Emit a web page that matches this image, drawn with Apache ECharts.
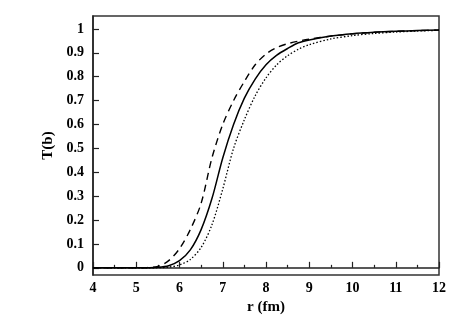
<!DOCTYPE html>
<html>
<head>
<meta charset="utf-8">
<script src="https://cdn.jsdelivr.net/npm/echarts@6/dist/echarts.min.js"></script>
<style>html,body{margin:0;padding:0;background:#fff}#c{width:463px;height:325px}</style>
</head>
<body>
<div id="c"></div>
<script>
var rValues = [4.0, 5.0, 5.25, 5.5, 5.75, 6.0, 6.25, 6.5, 6.75, 7.0, 7.25, 7.5, 7.75, 8.0, 8.25, 8.5, 8.75, 9.0, 9.5, 10.0, 10.5, 11.0, 11.5, 12.0];
var solidT  = [0, 0, 0.0005, 0.002, 0.009, 0.03, 0.075, 0.16, 0.29, 0.46, 0.60, 0.71, 0.79, 0.85, 0.89, 0.918, 0.942, 0.954, 0.970, 0.980, 0.986, 0.990, 0.993, 0.995];
var dashedT = [0, 0, 0.001, 0.006, 0.03, 0.08, 0.16, 0.27, 0.46, 0.60, 0.70, 0.78, 0.85, 0.895, 0.922, 0.938, 0.949, 0.957, 0.970, 0.979, 0.986, 0.990, 0.993, 0.995];
var dottedT = [0, 0, 0, 0.0005, 0.003, 0.012, 0.035, 0.085, 0.18, 0.33, 0.50, 0.62, 0.72, 0.795, 0.85, 0.888, 0.915, 0.934, 0.958, 0.972, 0.981, 0.987, 0.991, 0.994];
var yTicks = [0, 0.1, 0.2, 0.3, 0.4, 0.5, 0.6, 0.7, 0.8, 0.9, 1];
var xName = 'r (fm)';
var yName = 'T(b)';

function pairs(ys) { return rValues.map(function (r, i) { return [r, ys[i]]; }); }
var font = 'Liberation Serif';
var chart = echarts.init(document.getElementById('c'), null, {renderer: 'canvas'});
chart.setOption({
  animation: false,
  backgroundColor: '#fff',
  grid: {left: 93, right: 24, top: 16, bottom: 50, show: true, borderColor: '#333', borderWidth: 1.5, backgroundColor: 'transparent'},
  xAxis: {
    type: 'value', min: 4, max: 12, interval: 1,
    name: xName, nameLocation: 'middle', nameGap: 17,
    nameTextStyle: {fontFamily: font, fontWeight: 'bold', fontSize: 15, color: '#000'},
    axisLine: {lineStyle: {color: '#222', width: 1.5}},
    axisTick: {inside: true, length: 6, lineStyle: {color: '#222', width: 1.2}},
    minorTick: {show: true, splitNumber: 2, length: 3, lineStyle: {color: '#222', width: 1.2}},
    axisLabel: {fontFamily: font, fontWeight: 'bold', fontSize: 14, color: '#000', margin: 6},
    splitLine: {show: false}
  },
  yAxis: {
    type: 'value', min: -0.03, max: 1.054,
    name: yName, nameLocation: 'middle', nameGap: 30, nameRotate: 90,
    nameTextStyle: {fontFamily: font, fontWeight: 'bold', fontSize: 15, color: '#000'},
    axisLine: {lineStyle: {color: '#222', width: 1.5}},
    axisTick: {inside: true, length: 6, customValues: yTicks, lineStyle: {color: '#222', width: 1.2}},
    axisLabel: {fontFamily: font, fontWeight: 'bold', fontSize: 14, color: '#000', margin: 9,
      customValues: yTicks,
      formatter: function (v) { return String(Number(v.toFixed(1))); }},
    splitLine: {show: false}
  },
  series: [
    {type: 'line', data: pairs(solidT), showSymbol: false, smooth: 0.3,
      lineStyle: {color: '#000', width: 1.5, type: 'solid'}},
    {type: 'line', data: pairs(dashedT), showSymbol: false, smooth: 0.3,
      lineStyle: {color: '#000', width: 1.4, type: [7, 5]}},
    {type: 'line', data: pairs(dottedT), showSymbol: false, smooth: 0.3,
      lineStyle: {color: '#000', width: 1.3, type: [1.5, 2]}}
  ]
});
</script>
</body>
</html>
